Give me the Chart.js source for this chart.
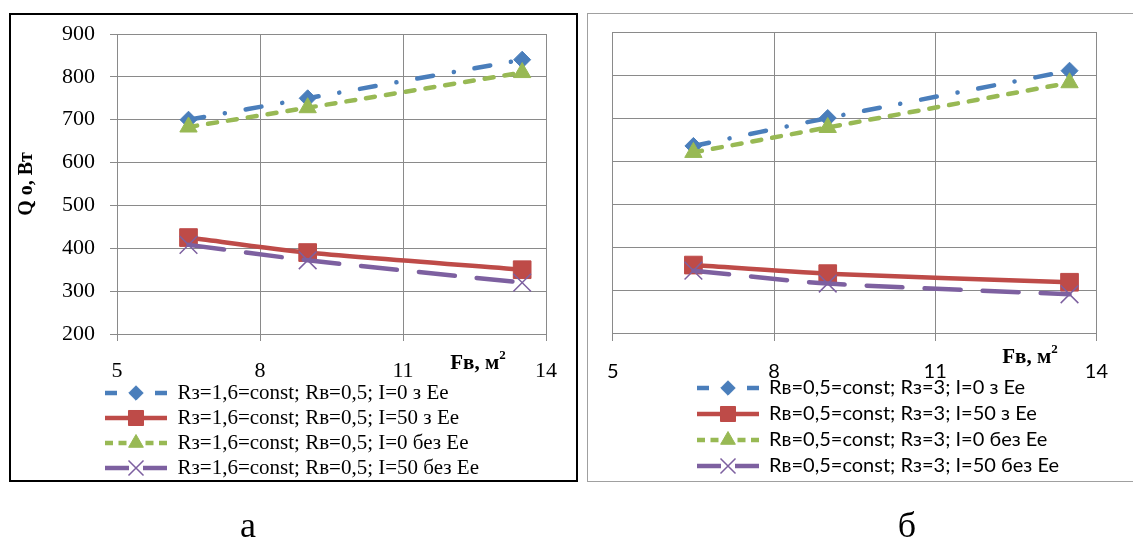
<!DOCTYPE html>
<html>
<head>
<meta charset="utf-8">
<script src="https://cdn.jsdelivr.net/npm/chart.js@4.4.1/dist/chart.umd.min.js"></script>
<style>
  html, body { margin: 0; padding: 0; background: #fff; }
  body { width: 1133px; height: 543px; position: relative; overflow: hidden; }
  .box { position: absolute; box-sizing: border-box; }
  #boxA { left: 9px; top: 13px; width: 569px; height: 469px; border: 2px solid #000; }
  #boxB { left: 587px; top: 13px; width: 560px; height: 469px; border: 1.5px solid #a0a0a0; }
  .wrap { position: absolute; }
  #wrapA { left: 10px; top: 14px; width: 566px; height: 500px; }
  #wrapB { left: 588px; top: 14px; width: 539px; height: 500px; }
  .xt { position: absolute; font-family: "Liberation Serif", "Times New Roman", serif; font-weight: bold; font-size: 21px; white-space: nowrap; transform: translate(-50%, -50%); line-height: 1; }
  .xt sup { font-size: 13px; position: relative; top: -2px; }
  .cap { position: absolute; font-family: "Liberation Serif", "Times New Roman", serif; font-size: 36px; transform: translate(-50%, -50%); line-height: 1; }
</style>
</head>
<body>
<div class="box" id="boxA"></div>
<div class="box" id="boxB"></div>
<div class="wrap" id="wrapA"><canvas id="chartA"></canvas></div>
<div class="wrap" id="wrapB"><canvas id="chartB"></canvas></div>
<div class="xt" style="left:478px; top:361px;">Fв, м<sup>2</sup></div>
<div class="xt" style="left:1030px; top:355px;">Fв, м<sup>2</sup></div>
<div class="cap" style="left:248px; top:525px;">а</div>
<div class="cap" style="left:907px; top:525px;">б</div>
<script>
// ---- data ----
const fvValues = [6.5, 9, 13.5];
const xTicks = [5, 8, 11, 14];
const yTicks = [200, 300, 400, 500, 600, 700, 800, 900];

const labelsA = [
  'Rз=1,6=const; Rв=0,5; I=0 з Ee',
  'Rз=1,6=const; Rв=0,5; I=50 з Ee',
  'Rз=1,6=const; Rв=0,5; I=0 без Ee',
  'Rз=1,6=const; Rв=0,5; I=50 без Ee'
];
const qA_I0_withEe = [700, 750, 840];
const qA_I50_withEe = [425, 390, 350];
const qA_I0_noEe = [683, 728, 810];
const qA_I50_noEe = [408, 372, 320];

const labelsB = [
  'Rв=0,5=const; Rз=3; I=0 з Ee',
  'Rв=0,5=const; Rз=3; I=50 з Ee',
  'Rв=0,5=const; Rз=3; I=0 без Ee',
  'Rв=0,5=const; Rз=3; I=50 без Ee'
];
const qB_I0_withEe = [635, 700, 810];
const qB_I50_withEe = [358, 338, 318];
const qB_I0_noEe = [620, 678, 782];
const qB_I50_noEe = [345, 315, 290];

// ---- styles ----
const styles = [
  { color: '#4a7ebb', dash: [16, 21, 0.1, 21], point: 'rectRot', radius: 8.5, pbw: 1, sampleDash: [12, 38] },
  { color: '#be4b48', dash: [], point: 'rect', radius: 12.5, pbw: 1, sampleDash: [] },
  { color: '#98b954', dash: [9, 11], point: 'triangle', radius: 10, pbw: 1, sampleDash: [8, 5.5] },
  { color: '#7d60a0', dash: [36, 22], point: 'crossRot', radius: 12.5, pbw: 1.5, sampleDash: [24, 14] }
];

function toPts(xs, ys) { return xs.map((x, i) => ({ x: x, y: ys[i] })); }

function makeSample(st) {
  const c = document.createElement('canvas');
  c.width = 62; c.height = 22;
  const ctx = c.getContext('2d');
  ctx.strokeStyle = st.color;
  ctx.lineWidth = 4.5;
  ctx.lineCap = 'butt';
  ctx.setLineDash(st.sampleDash);
  ctx.beginPath(); ctx.moveTo(0, 11); ctx.lineTo(62, 11); ctx.stroke();
  ctx.setLineDash([]);
  ctx.fillStyle = st.color;
  ctx.strokeStyle = st.color;
  ctx.lineWidth = st.pbw;
  Chart.helpers.drawPoint(ctx, { pointStyle: st.point, radius: st.radius * 0.85, rotation: 0, borderWidth: st.pbw }, 31, 11);
  return c;
}

function makeDatasets(labels, series) {
  return series.map((ys, i) => {
    const st = styles[i];
    return {
      label: labels[i],
      data: toPts(fvValues, ys),
      borderColor: st.color,
      backgroundColor: st.color,
      borderWidth: 4.5,
      borderDash: st.dash,
      borderCapStyle: 'round',
      tension: 0.25,
      pointStyle: st.point,
      pointRadius: st.radius,
      pointHoverRadius: st.radius,
      pointBorderWidth: st.pbw,
      pointBorderColor: st.color,
      pointBackgroundColor: st.color,
      order: 4 - i
    };
  });
}

// places the legend's first row at a given point (canvas coordinates)
const placeLegend = {
  id: 'placeLegend',
  afterLayout(chart, args, opts) {
    const lg = chart.legend;
    if (!lg || !opts) return;
    const w = lg.right - lg.left, h = lg.bottom - lg.top;
    lg.left = opts.x - opts.pad; lg.right = lg.left + w;
    lg.top = opts.y - opts.pad - opts.fs / 2; lg.bottom = lg.top + h;
  }
};

function legendLabels(chart) {
  return chart.data.datasets.map((ds, i) => ({
    text: ds.label,
    pointStyle: makeSample(styles[i]),
    fillStyle: styles[i].color,
    strokeStyle: styles[i].color,
    lineWidth: 0,
    hidden: false,
    datasetIndex: i,
    fontColor: '#000'
  }));
}

const gridColor = '#8a8a8a';

function buildChart(id, cfg) {
  return new Chart(document.getElementById(id), {
    type: 'line',
    data: { datasets: makeDatasets(cfg.labels, cfg.series) },
    plugins: [placeLegend],
    options: {
      responsive: true,
      maintainAspectRatio: false,
      animation: false,
      layout: { padding: cfg.padding },
      plugins: {
        tooltip: { enabled: false },
        placeLegend: { x: cfg.legendX, y: cfg.legendY, pad: cfg.legendPad, fs: cfg.legendFont.size },
        legend: {
          position: 'bottom',
          align: 'start',
          fullSize: true,
          labels: {
            usePointStyle: true,
            pointStyleWidth: 62,
            padding: cfg.legendPad,
            color: '#000',
            font: cfg.legendFont,
            generateLabels: legendLabels
          }
        }
      },
      scales: {
        x: {
          type: 'linear',
          min: xTicks[0],
          max: xTicks[xTicks.length - 1],
          afterBuildTicks: (s) => { s.ticks = xTicks.map(v => ({ value: v })); },
          afterFit: (s) => { s.height = cfg.xh; },
          grid: { color: gridColor, lineWidth: 1, drawTicks: true, tickLength: cfg.xTickLen, tickColor: gridColor },
          border: { color: gridColor, width: 1 },
          ticks: { color: '#000', font: cfg.tickFont, padding: cfg.xTickPad, maxRotation: 0, autoSkip: false }
        },
        y: {
          type: 'linear',
          min: yTicks[0],
          max: yTicks[yTicks.length - 1],
          afterBuildTicks: (s) => { s.ticks = yTicks.map(v => ({ value: v })); },
          afterFit: (s) => { s.width = cfg.yw; s.paddingTop = 0; s.paddingBottom = 0; },
          grid: { color: gridColor, lineWidth: 1, drawTicks: cfg.yTicks, tickLength: 7, tickColor: gridColor },
          border: { color: gridColor, width: 1 },
          ticks: { display: cfg.yTicks, color: '#000', font: cfg.tickFont, padding: 15 },
          title: cfg.yTitle
        }
      }
    }
  });
}

buildChart('chartA', {
  labels: labelsA,
  series: [qA_I0_withEe, qA_I50_withEe, qA_I0_noEe, qA_I50_noEe],
  padding: { top: 20, right: 30, left: 0, bottom: 0 },
  legendX: 95,
  legendY: 379,
  legendPad: 4,
  legendFont: { family: '"Liberation Serif", "Times New Roman", serif', size: 21 },
  tickFont: { family: '"Liberation Serif", "Times New Roman", serif', size: 22 },
  xh: 70,
  xTickLen: 7,
  xTickPad: 17,
  yw: 107,
  yTicks: true,
  yTitle: { display: true, text: 'Q o, Вт', color: '#000', padding: { top: 5, bottom: 4 },
            font: { family: '"Liberation Serif", "Times New Roman", serif', size: 20, weight: 'bold' } }
});

buildChart('chartB', {
  labels: labelsB,
  series: [qB_I0_withEe, qB_I50_withEe, qB_I0_noEe, qB_I50_noEe],
  padding: { top: 18, right: 16, left: 0, bottom: 0 },
  legendX: 109,
  legendY: 374,
  legendPad: 6,
  legendFont: { family: 'Lato, "Liberation Sans", sans-serif', size: 20 },
  tickFont: { family: 'Lato, "Liberation Sans", sans-serif', size: 20 },
  xh: 67,
  xTickLen: 8,
  xTickPad: 19,
  yw: 21,
  yTicks: false,
  yTitle: { display: false }
});
</script>
</body>
</html>
